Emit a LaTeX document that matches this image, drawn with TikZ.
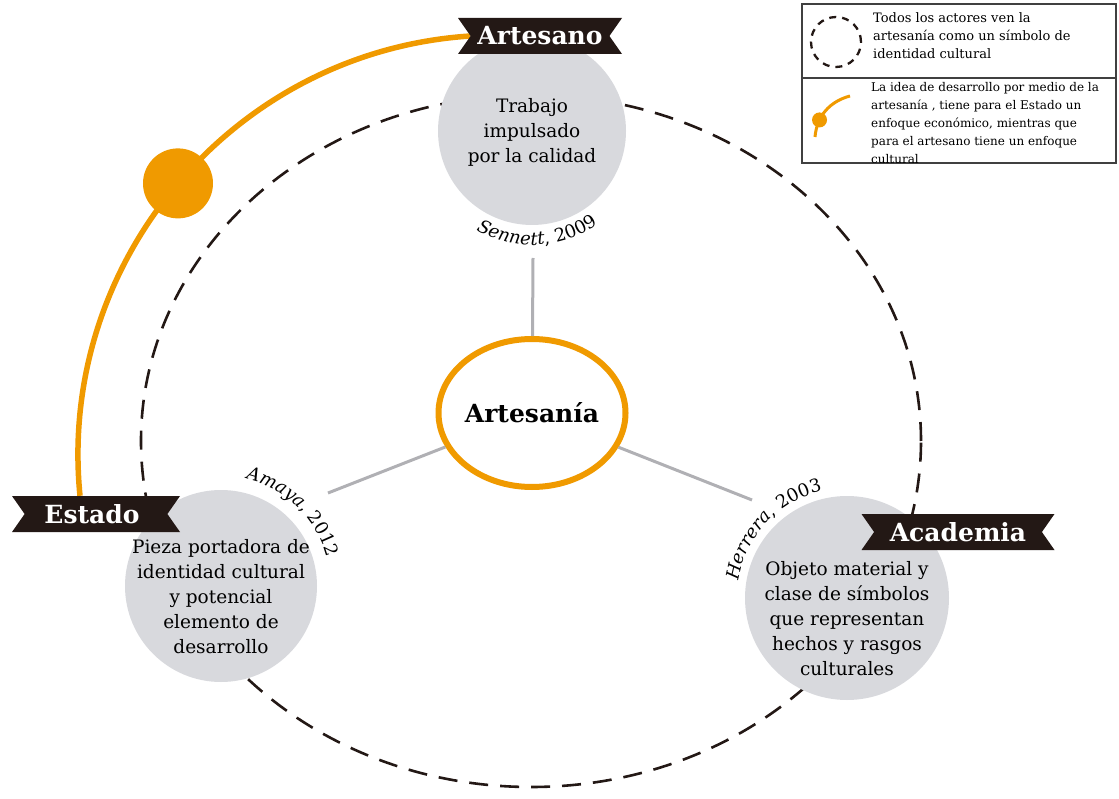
\documentclass[tikz,border=0pt]{standalone}
\usepackage{fontspec}
\setmainfont{DejaVu Serif}
\usetikzlibrary{shapes}
\usetikzlibrary{positioning}
\usetikzlibrary{decorations.text}
\usetikzlibrary{backgrounds}

\definecolor{craftorange}{RGB}{240,154,0}
\definecolor{discgray}{RGB}{216,217,221}
\definecolor{ribbonblack}{RGB}{35,24,21}
\definecolor{linkgray}{RGB}{176,176,180}
\newcommand\citefont{\fontsize{18}{21}\selectfont}

\begin{document}
\begin{tikzpicture}[x=1pt, y=1pt,
	disc/.style={circle, fill=discgray, inner sep=0pt},
	disc text/.style={align=center, font=\fontsize{18.5}{25}\selectfont},
	ribbon/.style={signal, signal from=west and east, signal to=nowhere,
	  signal pointer angle=110, fill=ribbonblack, text=white, inner sep=0pt,
	  minimum height=36pt, font=\fontsize{25}{28}\selectfont\bfseries},
	core/.style={ellipse, draw=craftorange, fill=white, line width=6pt,
	  inner sep=0pt, minimum width=187pt, minimum height=148pt,
	  font=\fontsize{25}{28}\selectfont\bfseries},
	link/.style={draw=linkgray, line width=3pt},
	craft/.style={draw=craftorange, line width=5.5pt},
	craft dot/.style={circle, fill=craftorange, inner sep=0pt, minimum size=#1},
	ring/.style={draw=ribbonblack, line width=2.6pt, dash pattern=on 19pt off 12pt},
	key text/.style={anchor=north west, inner sep=0pt, align=left,
	  font=\fontsize{12}{18}\selectfont}]

	\useasboundingbox (0,0) rectangle (1119,-799);

	% los tres actores
	\node[disc, minimum size=188pt] at (532,-131) (artesano) {};
	\node[disc, minimum size=192pt] at (221,-586) (estado) {};
	\node[disc, minimum size=204pt] at (847,-598) (academia) {};
	\node[disc text] at (532,-132) (artesano text) {Trabajo\\ impulsado\\ por la calidad};
	\node[disc text] at (221,-597) (estado text) {Pieza portadora de\\ identidad cultural\\ y potencial\\ elemento de\\ desarrollo};
	\node[disc text] at (847,-619) (academia text) {Objeto material y\\ clase de símbolos\\ que representan\\ hechos y rasgos\\ culturales};

	\node[core] at (532,-413) (core) {\makebox[0pt]{Artesanía}};

	\node[ribbon, minimum width=164pt] at (540,-36) (artesano ribbon) {Artesano};
	\node[ribbon, minimum width=168pt] at (96,-514) (estado ribbon) {\hspace{-8pt}Estado};
	\node[ribbon, minimum width=193pt] at (958,-532) (academia ribbon) {Academia};

	% autores
	\coordinate (sennett tip) at (533,-258);
	\coordinate (amaya tip) at (328,-493);
	\coordinate (herrera tip) at (752,-500);
	\path
	(core) edge[link] (sennett tip)
	(core) edge[link] (amaya tip)
	(core) edge[link] (herrera tip)
	;
	\path[decorate, decoration={text along path, text align=center,
	    text={|\citefont\itshape|Sennett|\citefont\upshape|, 2009}}]
	  ([shift={(226:114pt)}]artesano.center) arc [start angle=226, end angle=320, radius=114pt];
	\path[decorate, decoration={text along path, text align=center,
	    text={|\citefont\itshape|Amaya|\citefont\upshape|, 2012}}]
	  ([shift={(88:110pt)}]estado.center) arc [start angle=88, end angle=4, radius=110pt];
	\path[decorate, decoration={text along path, text align=center,
	    text={|\citefont\itshape|Herrera|\citefont\upshape|, 2003}}]
	  ([shift={(180:110pt)}]academia.center) arc [start angle=180, end angle=94, radius=110pt];

	\begin{scope}[on background layer]
	  \draw[ring] (531,-441) ellipse [x radius=390pt, y radius=346pt];
	  \path
	  (artesano ribbon.west) edge[craft, bend right=46] node[craft dot=70pt] (craft dot) {} ([xshift=-16pt]estado ribbon.north)
	  ;
	\end{scope}

	% leyenda
	\draw[line width=1.3pt, draw=black!75] (802,-4) rectangle (1116,-163);
	\draw[line width=1.3pt, draw=black!75] (802,-78) -- (1116,-78);
	\draw[ring, line width=2.3pt, dash pattern=on 7pt off 6pt] (836,-42) circle [radius=25pt];
	\node[key text, font=\fontsize{13}{18}\selectfont] at (873,-12) (key ring) {Todos los actores ven la\\ artesanía como un símbolo de\\ identidad cultural};
	\begin{scope}
	  \clip (802,-4) rectangle (1116,-163);
	  \node[key text] at (871,-82) (key craft) {La idea de desarrollo por medio de la\\ artesanía , tiene para el Estado un\\ enfoque económico, mientras que\\ para el artesano tiene un enfoque\\ cultural};
	\end{scope}
	\coordinate (key start) at (815,-137);
	\coordinate (key end) at (850,-96);
	\path (key start) edge[craft, line width=3pt, out=85, in=195] node[craft dot=15pt, pos=0.3] (key dot) {} (key end);

\end{tikzpicture}
\end{document}
